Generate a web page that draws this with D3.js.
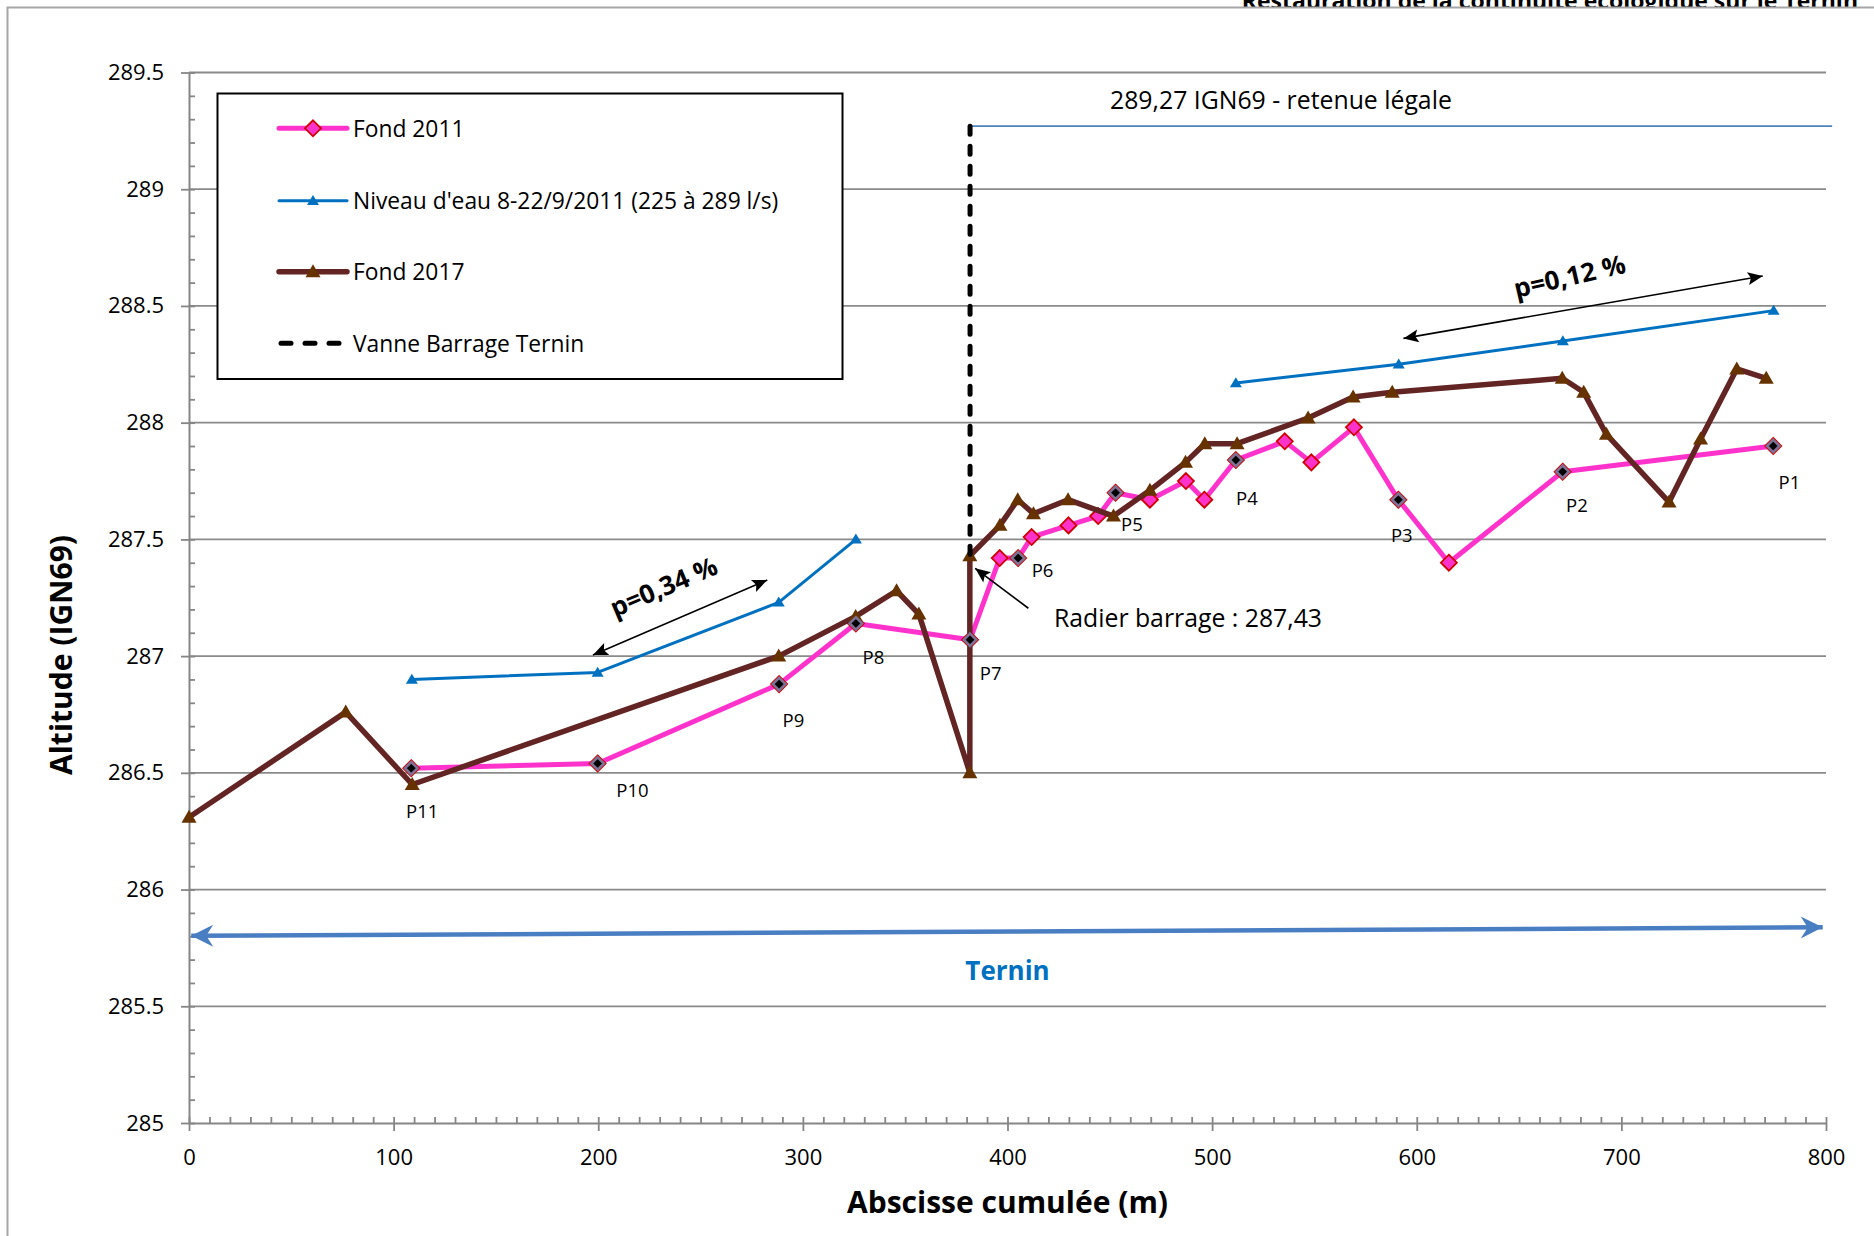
<!DOCTYPE html>
<html>
<head>
<meta charset="utf-8">
<script src="https://cdn.jsdelivr.net/npm/d3@7"></script>
<style>
  html, body { margin: 0; padding: 0; background: #fff; }
  svg { display: block; font-family: 'Open Sans', sans-serif; }
</style>
</head>
<body>
<svg id="chart" width="1874" height="1236"></svg>
<script>
// ---- Longitudinal profile of the Ternin around the dam ----

// Cumulative abscissa (m) and altitude (IGN69) of the 2011 bed survey
const fond2011X = [108.6, 199.7, 288.4, 325.9, 381.7, 396.2, 405.2, 411.8, 429.8, 444.3, 452.8, 469.6, 487.2, 496.2, 511.6, 535.5, 548.5, 569.3, 591.0, 615.7, 671.3, 774.2];
const fond2011Y = [286.52, 286.54, 286.88, 287.14, 287.07, 287.42, 287.42, 287.51, 287.56, 287.60, 287.70, 287.67, 287.75, 287.67, 287.84, 287.92, 287.83, 287.98, 287.67, 287.40, 287.79, 287.90];

// Water level 8-22/9/2011 (null = no reading between the two reaches)
const niveauX = [108.9, 199.7, 288.2, 325.9, null, 511.6, 591.2, 671.4, 774.4];
const niveauY = [286.90, 286.93, 287.23, 287.50, null, 288.17, 288.25, 288.35, 288.48];

// 2017 bed survey
const fond2017X = [0, 76.6, 109.1, 288.2, 325.8, 345.8, 356.7, 381.6, 381.6, 396.3, 405.0, 412.7, 429.6, 451.8, 469.6, 487.0, 496.4, 512.2, 546.9, 568.9, 588.0, 671.1, 681.6, 692.7, 723.3, 738.7, 756.4, 770.8];
const fond2017Y = [286.31, 286.76, 286.45, 287.00, 287.17, 287.28, 287.18, 286.50, 287.43, 287.56, 287.67, 287.61, 287.67, 287.60, 287.71, 287.83, 287.91, 287.91, 288.02, 288.11, 288.13, 288.19, 288.13, 287.95, 287.66, 287.93, 288.23, 288.19];

// Dam gate and legal retention level
const vanneX = [381.7, 381.7];
const vanneY = [289.27, 287.43];
const retenueX = [381.7, 803];
const retenueY = [289.27, 289.27];

// Cross-section profiles P1..P11 (on the 2011 bed line)
const profilNames = ["P11", "P10", "P9", "P8", "P7", "P6", "P5", "P4", "P3", "P2", "P1"];
const profilX = [108.6, 199.7, 288.4, 325.9, 381.7, 405.2, 452.8, 511.6, 591.0, 671.3, 774.2];
const profilY = [286.52, 286.54, 286.88, 287.14, 287.07, 287.42, 287.70, 287.84, 287.67, 287.79, 287.90];
const profilLabelX = [114.0, 216.7, 295.4, 334.5, 391.8, 417.1, 460.8, 517.0, 592.7, 678.3, 782.1];
const profilLabelY = [286.338, 286.429, 286.73, 287.0, 286.93, 287.37, 287.57, 287.68, 287.52, 287.65, 287.75];

// Slope annotations
const pentesLabels = ["p=0,34 %", "p=0,12 %"];
const pentesArrowX = [[197.4, 282.6], [593.5, 769.1]];
const pentesArrowY = [[287.005, 287.326], [288.361, 288.628]];
const pentesTextX = [231.8, 674.6];
const pentesTextY = [287.30, 288.63];
const pentesAngle = [-23, -13];

// River arrow
const terninX = [1.1, 798.4];
const terninY = [285.802, 285.838];

// Axis ticks
const xTickValues = [0, 100, 200, 300, 400, 500, 600, 700, 800];
const xTickLabels = ["0", "100", "200", "300", "400", "500", "600", "700", "800"];
const yTickValues = [285, 285.5, 286, 286.5, 287, 287.5, 288, 288.5, 289, 289.5];
const yTickLabels = ["285", "285.5", "286", "286.5", "287", "287.5", "288", "288.5", "289", "289.5"];

const legendLabels = ["Fond 2011", "Niveau d'eau 8-22/9/2011 (225 à 289 l/s)", "Fond 2017", "Vanne Barrage Ternin"];

// ---- Styles ----
const C = {
  pink: "#FF33CC", pinkEdge: "#D00000",
  blue: "#0070C0",
  brown: "#632523", brownMarker: "#663300",
  grid: "#8A8A8A", axis: "#868686",
  retenue: "#4F81BD", ternin: "#4A7EC2"
};

const svg = d3.select("#chart");
const W = 1874, H = 1236;
const x = d3.scaleLinear().domain([0, 800]).range([189, 1826]);
const y = d3.scaleLinear().domain([285, 289.5]).range([1123, 72.5]);

// Page header (cut by the chart frame) and frame
svg.append("text")
  .attr("x", 1858).attr("y", 9).attr("text-anchor", "end")
  .attr("font-weight", "bold").attr("font-size", 23)
  .text("Restauration de la continuité écologique sur le Ternin");
svg.append("rect").attr("x", 0).attr("y", 7.5).attr("width", W).attr("height", H).attr("fill", "#fff");
svg.append("path").attr("d", `M7.5,${H} V7.5 H${W}`).attr("fill", "none")
  .attr("stroke", "#A6A6A6").attr("stroke-width", 2);

// Markers for arrows
const defs = svg.append("defs");
defs.append("marker").attr("id", "headBlack")
  .attr("markerUnits", "userSpaceOnUse").attr("viewBox", "-16 -8 18 16")
  .attr("markerWidth", 18).attr("markerHeight", 16).attr("refX", 0).attr("refY", 0)
  .attr("orient", "auto-start-reverse")
  .append("path").attr("d", "M0,0 L-15,-6.5 L-12,0 L-15,6.5 Z").attr("fill", "#000");
defs.append("marker").attr("id", "headBlue")
  .attr("markerUnits", "userSpaceOnUse").attr("viewBox", "-26 -14 28 28")
  .attr("markerWidth", 28).attr("markerHeight", 28).attr("refX", 0).attr("refY", 0)
  .attr("orient", "auto-start-reverse")
  .append("path").attr("d", "M0,0 L-22,-11 L-15,0 L-22,11 Z").attr("fill", C.ternin);

// Gridlines
const plot = svg.append("g");
plot.selectAll("line.grid").data(yTickValues.filter(v => v > 285)).enter()
  .append("line").attr("class", "grid")
  .attr("x1", x(0)).attr("x2", x(800))
  .attr("y1", d => y(d)).attr("y2", d => y(d))
  .attr("stroke", C.grid).attr("stroke-width", 1.8);

// Minor ticks (inside)
const minorY = d3.range(285, 289.5001, 0.1);
svg.append("g").attr("transform", `translate(${x(0)},0)`)
  .call(d3.axisRight(y).tickValues(minorY).tickSize(6).tickSizeOuter(0).tickFormat(""))
  .call(g => g.select(".domain").remove())
  .selectAll("line").attr("stroke", C.axis).attr("stroke-width", 1.8);
const minorX = d3.range(0, 801, 10);
svg.append("g").attr("transform", `translate(0,${y(285)})`)
  .call(d3.axisTop(x).tickValues(minorX).tickSize(6).tickSizeOuter(0).tickFormat(""))
  .call(g => g.select(".domain").remove())
  .selectAll("line").attr("stroke", C.axis).attr("stroke-width", 1.8);

// Major axes
const yAxis = svg.append("g").attr("transform", `translate(${x(0)},0)`)
  .call(d3.axisLeft(y).tickValues(yTickValues).tickSize(8).tickSizeOuter(0).tickPadding(17)
    .tickFormat((d, i) => yTickLabels[i]));
const xAxis = svg.append("g").attr("transform", `translate(0,${y(285)})`)
  .call(d3.axisBottom(x).tickValues(xTickValues).tickSize(8).tickSizeOuter(0).tickPadding(18)
    .tickFormat((d, i) => xTickLabels[i]));
[yAxis, xAxis].forEach(g => {
  g.select(".domain").attr("stroke", C.axis).attr("stroke-width", 2);
  g.selectAll(".tick line").attr("stroke", C.axis).attr("stroke-width", 1.8);
  g.selectAll(".tick text").attr("font-family", "'Open Sans', sans-serif")
    .attr("font-size", 22).attr("fill", "#000");
});

// Axis titles
svg.append("text").attr("transform", `translate(60,655) rotate(-90)`)
  .attr("text-anchor", "middle").attr("dominant-baseline", "central")
  .attr("font-weight", "bold").attr("font-size", 30).text("Altitude (IGN69)");
svg.append("text").attr("x", 1007.5).attr("y", 1201)
  .attr("text-anchor", "middle").attr("dominant-baseline", "central")
  .attr("font-weight", "bold").attr("font-size", 30).text("Abscisse cumulée (m)");

// Marker shapes
const diamond = r => `M0,${-r}L${r},0L0,${r}L${-r},0Z`;
const triangle = (w, h) => `M0,${-h * 0.58}L${w / 2},${h * 0.42}L${-w / 2},${h * 0.42}Z`;

const line = d3.line().x(d => x(d[0])).y(d => y(d[1])).defined(d => d[0] != null && d[1] != null);

// Fond 2011
const f2011 = fond2011X.map((v, i) => [v, fond2011Y[i]]);
svg.append("path").datum(f2011).attr("d", line).attr("fill", "none")
  .attr("stroke", C.pink).attr("stroke-width", 5).attr("stroke-linejoin", "round");
svg.append("g").selectAll("path").data(f2011).enter().append("path")
  .attr("transform", d => `translate(${x(d[0])},${y(d[1])})`)
  .attr("d", diamond(8)).attr("fill", C.pink).attr("stroke", C.pinkEdge).attr("stroke-width", 1.8);

// Water level
const niv = niveauX.map((v, i) => [v, niveauY[i]]);
svg.append("path").datum(niv).attr("d", line).attr("fill", "none")
  .attr("stroke", C.blue).attr("stroke-width", 3).attr("stroke-linejoin", "round");
svg.append("g").selectAll("path").data(niv.filter(d => d[0] != null)).enter().append("path")
  .attr("transform", d => `translate(${x(d[0])},${y(d[1])})`)
  .attr("d", triangle(12, 10)).attr("fill", C.blue);

// Fond 2017
const f2017 = fond2017X.map((v, i) => [v, fond2017Y[i]]);
svg.append("path").datum(f2017).attr("d", line).attr("fill", "none")
  .attr("stroke", C.brown).attr("stroke-width", 5.5).attr("stroke-linejoin", "round");
svg.append("g").selectAll("path").data(f2017).enter().append("path")
  .attr("transform", d => `translate(${x(d[0])},${y(d[1])})`)
  .attr("d", triangle(15, 13)).attr("fill", C.brownMarker);

// Legal retention level and dam gate
svg.append("path").datum(retenueX.map((v, i) => [v, retenueY[i]])).attr("d", line)
  .attr("fill", "none").attr("stroke", C.retenue).attr("stroke-width", 1.8);
svg.append("path").datum(vanneX.map((v, i) => [v, vanneY[i]])).attr("d", line)
  .attr("fill", "none").attr("stroke", "#000").attr("stroke-width", 5)
  .attr("stroke-dasharray", "8,12").attr("stroke-linecap", "round");

// Profiles
const prof = profilX.map((v, i) => [v, profilY[i]]);
svg.append("g").selectAll("path").data(prof).enter().append("path")
  .attr("transform", d => `translate(${x(d[0])},${y(d[1])})`)
  .attr("d", diamond(6.2)).attr("fill", "#000").attr("stroke", "#7E7196").attr("stroke-width", 2.6);
svg.append("g").selectAll("text").data(profilNames).enter().append("text")
  .attr("x", (d, i) => x(profilLabelX[i])).attr("y", (d, i) => y(profilLabelY[i]))
  .attr("text-anchor", "middle").attr("dominant-baseline", "central")
  .attr("font-size", 18.5).text(d => d);

// Slope annotations
pentesLabels.forEach((lab, i) => {
  svg.append("line")
    .attr("x1", x(pentesArrowX[i][0])).attr("y1", y(pentesArrowY[i][0]))
    .attr("x2", x(pentesArrowX[i][1])).attr("y2", y(pentesArrowY[i][1]))
    .attr("stroke", "#000").attr("stroke-width", 1.6)
    .attr("marker-start", "url(#headBlack)").attr("marker-end", "url(#headBlack)");
  svg.append("text")
    .attr("transform", `translate(${x(pentesTextX[i])},${y(pentesTextY[i])}) rotate(${pentesAngle[i]})`)
    .attr("text-anchor", "middle").attr("dominant-baseline", "central")
    .attr("font-weight", "bold").attr("font-size", 26).text(lab);
});

// Dam sill annotation
svg.append("line")
  .attr("x1", x(410.2)).attr("y1", y(287.205)).attr("x2", x(384.2)).attr("y2", y(287.376))
  .attr("stroke", "#000").attr("stroke-width", 1.6).attr("marker-end", "url(#headBlack)");
svg.append("text").attr("x", x(422.7)).attr("y", y(287.167))
  .attr("dominant-baseline", "central").attr("font-size", 24.8).text("Radier barrage : 287,43");

svg.append("text").attr("x", x(450.1)).attr("y", y(289.386))
  .attr("dominant-baseline", "central").attr("font-size", 24.8).text("289,27 IGN69 - retenue légale");

// River arrow
svg.append("line")
  .attr("x1", x(terninX[0])).attr("y1", y(terninY[0]))
  .attr("x2", x(terninX[1])).attr("y2", y(terninY[1]))
  .attr("stroke", C.ternin).attr("stroke-width", 4.5)
  .attr("marker-start", "url(#headBlue)").attr("marker-end", "url(#headBlue)");
svg.append("text").attr("x", x(400)).attr("y", y(285.655))
  .attr("text-anchor", "middle").attr("dominant-baseline", "central")
  .attr("font-weight", "bold").attr("font-size", 26).attr("fill", "#0070C0").text("Ternin");

// Legend
const lg = svg.append("g");
lg.append("rect").attr("x", 217.5).attr("y", 93.5).attr("width", 625).attr("height", 285.5)
  .attr("fill", "#fff").attr("stroke", "#000").attr("stroke-width", 2);
const legY = [128.3, 200.7, 271.7, 343.3];
const lx1 = 279, lx2 = 347, lmx = 313;
legendLabels.forEach((lab, i) => {
  const g = lg.append("g").attr("transform", `translate(0,${legY[i]})`);
  if (i === 0) {
    g.append("line").attr("x1", lx1).attr("x2", lx2).attr("stroke", C.pink).attr("stroke-width", 5).attr("stroke-linecap", "round");
    g.append("path").attr("transform", `translate(${lmx},0)`).attr("d", diamond(8)).attr("fill", C.pink).attr("stroke", C.pinkEdge).attr("stroke-width", 1.8);
  } else if (i === 1) {
    g.append("line").attr("x1", lx1).attr("x2", lx2).attr("stroke", C.blue).attr("stroke-width", 3).attr("stroke-linecap", "round");
    g.append("path").attr("transform", `translate(${lmx},0)`).attr("d", triangle(12, 10)).attr("fill", C.blue);
  } else if (i === 2) {
    g.append("line").attr("x1", lx1).attr("x2", lx2).attr("stroke", C.brown).attr("stroke-width", 5.5).attr("stroke-linecap", "round");
    g.append("path").attr("transform", `translate(${lmx},0)`).attr("d", triangle(15, 13)).attr("fill", C.brownMarker);
  } else {
    g.append("line").attr("x1", lx1 + 2).attr("x2", lx2 - 8).attr("stroke", "#000").attr("stroke-width", 5)
      .attr("stroke-dasharray", "10,14").attr("stroke-linecap", "round");
  }
  g.append("text").attr("x", 353).attr("y", 0).attr("dominant-baseline", "central")
    .attr("font-size", 22.8).text(lab);
});
</script>
</body>
</html>
